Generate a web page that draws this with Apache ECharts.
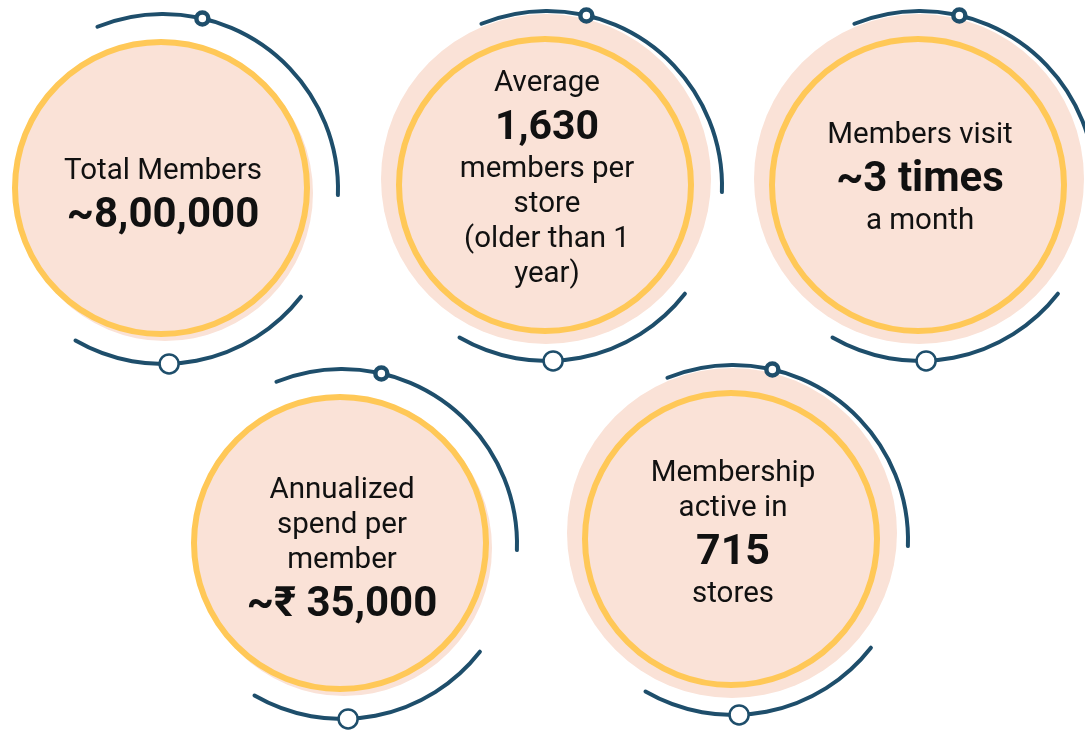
<!DOCTYPE html>
<html>
<head>
<meta charset="utf-8">
<script src="https://cdn.jsdelivr.net/npm/echarts@6/dist/echarts.min.js"></script>
<style>
  html, body { margin: 0; padding: 0; background: #fff; }
  #chart { width: 1085px; height: 731px; }
</style>
</head>
<body>
<div id="chart"></div>
<script>
// text of each circle, top to bottom
const headLines = [['Total Members'], ['Average'], ['Members visit'], ['Annualized', 'spend per', 'member'], ['Membership', 'active in']];
const figures = ['~8,00,000', '1,630', '~3 times', '~₹ 35,000', '715'];
const tailLines = [[], ['members per', 'store', '(older than 1', 'year)'], ['a month'], [], ['stores']];

// layout of the circles (pixel coords on a 1085x731 axis)
const centers = [[161, 188], [545, 185], [918, 185], [340, 543], [731, 539]];
const haloed = [false, true, true, false, true];
const firstBaseline = [-9, -94, -42, -45, -58];
const figureSize = [42, 41, 42, 42, 43];

const PEACH = '#fae2d7';
const YELLOW = '#ffc857';
const BLUE = '#1e4e6b';
const INK = '#111111';
const D = Math.PI / 180;

function renderCard(params, api) {
  const i = params.dataIndex;
  const p = api.coord([api.value(0), api.value(1)]);
  const cx = p[0], cy = p[1];
  const kids = [];

  if (haloed[i]) {
    kids.push({ type: 'circle', shape: { cx: cx + 1, cy: cy - 6, r: 165 }, style: { fill: PEACH } });
  } else {
    kids.push({ type: 'circle', shape: { cx: cx + 4, cy: cy + 5, r: 148 }, style: { fill: PEACH } });
  }
  kids.push({ type: 'circle', shape: { cx: cx, cy: cy, r: 146 }, style: { fill: PEACH, stroke: YELLOW, lineWidth: 6 } });

  // dark arcs with their two knobs
  const bx = cx + 2, by = cy + 1, R = 175;
  kids.push({ type: 'arc', shape: { cx: bx, cy: by, r: R, startAngle: -112 * D, endAngle: 2 * D, clockwise: true },
    style: { stroke: BLUE, lineWidth: 4, lineCap: 'round', fill: null } });
  kids.push({ type: 'arc', shape: { cx: bx, cy: by, r: R, startAngle: 38 * D, endAngle: 120 * D, clockwise: true },
    style: { stroke: BLUE, lineWidth: 4, lineCap: 'round', fill: null } });
  kids.push({ type: 'circle', shape: { cx: bx + R * Math.cos(-77 * D), cy: by + R * Math.sin(-77 * D), r: 6 },
    style: { fill: '#fff', stroke: BLUE, lineWidth: 4.5 } });
  kids.push({ type: 'circle', shape: { cx: bx + R * Math.cos(88 * D), cy: by + R * Math.sin(88 * D), r: 9.5 },
    style: { fill: '#fff', stroke: BLUE, lineWidth: 2.5 } });

  // text lines
  const rows = [];
  headLines[i].forEach(t => rows.push({ t: t, bold: false }));
  rows.push({ t: figures[i], bold: true });
  tailLines[i].forEach(t => rows.push({ t: t, bold: false }));
  let base = cy + firstBaseline[i];
  rows.forEach((row, k) => {
    if (k > 0) {
      const prev = rows[k - 1];
      base += row.bold ? 48 : (prev.bold ? 38 : 35);
    }
    const fs = row.bold ? figureSize[i] : 29.5;
    kids.push({
      type: 'text',
      style: {
        text: row.t, x: cx + 2, y: base - fs * 0.245,
        fill: INK, align: 'center', verticalAlign: 'middle',
        font: (row.bold ? 'bold ' : '') + fs + 'px Roboto'
      }
    });
  });

  return { type: 'group', children: kids };
}

const chart = echarts.init(document.getElementById('chart'));
chart.setOption({
  animation: false,
  grid: { left: 0, right: 0, top: 0, bottom: 0 },
  xAxis: { type: 'value', min: 0, max: 1085, show: false },
  yAxis: { type: 'value', min: 0, max: 731, inverse: true, show: false },
  series: [{
    type: 'custom',
    renderItem: renderCard,
    data: centers,
    clip: false,
    silent: true
  }]
});
</script>
</body>
</html>
